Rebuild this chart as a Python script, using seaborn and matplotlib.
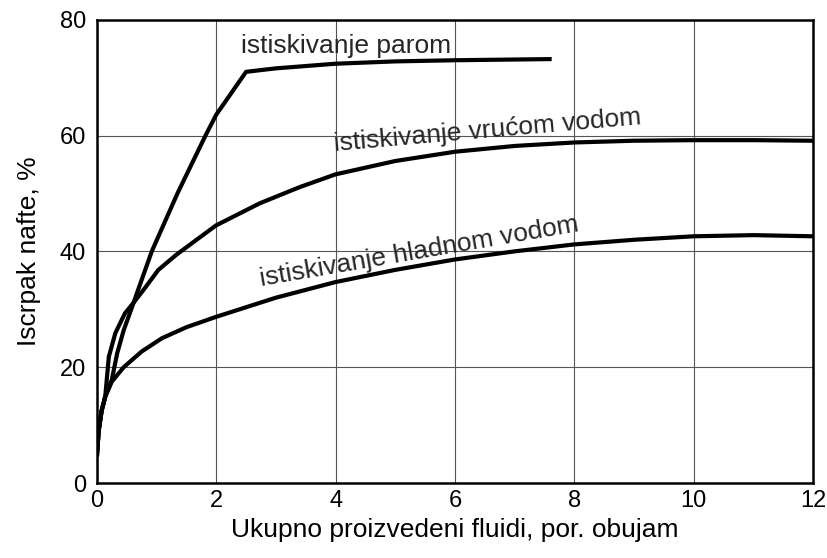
import matplotlib
matplotlib.use("Agg")
import matplotlib.pyplot as plt
import seaborn as sns
import pandas as pd

# Data
steam_x = [0, 0.03, 0.08, 0.14, 0.25, 0.34, 0.45, 0.59, 0.72, 0.81, 0.92, 1.35, 1.82, 2.0, 2.5, 3.0, 4.0, 5.0, 6.0, 7.62]
steam_y = [4.5, 9, 12.5, 14.9, 17.8, 22.4, 26.4, 30.4, 34.2, 36.8, 40, 50, 60, 63.6, 71.0, 71.6, 72.4, 72.8, 73.0, 73.2]

hot_x = [0, 0.03, 0.08, 0.14, 0.20, 0.31, 0.47, 0.62, 0.80, 1.03, 1.33, 1.67, 2.0, 2.73, 3.4, 4.0, 5.0, 6.0, 7.0, 8.0, 9.0, 10.0, 11.0, 12.0]
hot_y = [4.5, 9, 12.5, 14.9, 21.8, 25.9, 29.3, 31.2, 33.6, 36.8, 39.4, 42.0, 44.5, 48.3, 51.1, 53.3, 55.6, 57.2, 58.2, 58.8, 59.1, 59.2, 59.2, 59.1]

cold_x = [0, 0.03, 0.08, 0.14, 0.25, 0.45, 0.75, 1.09, 1.5, 2.0, 3.0, 4.0, 5.0, 6.0, 7.0, 8.0, 9.0, 10.0, 11.0, 12.0]
cold_y = [4.5, 9, 12.5, 14.9, 17.5, 20.0, 22.7, 25.0, 26.9, 28.7, 32.0, 34.7, 36.8, 38.6, 40.0, 41.2, 42.0, 42.6, 42.8, 42.6]

labels = ["istiskivanje parom", "istiskivanje vrućom vodom", "istiskivanje hladnom vodom"]
x_ticks = [0, 2, 4, 6, 8, 10, 12]
y_ticks = [0, 20, 40, 60, 80]
x_label = "Ukupno proizvedeni fluidi, por. obujam"
y_label = "Iscrpak nafte, %"

sns.set_theme(style="white")
plt.rcParams['font.family'] = ['Liberation Sans', 'DejaVu Sans']

df = pd.concat([
    pd.DataFrame({"x": steam_x, "y": steam_y, "s": labels[0]}),
    pd.DataFrame({"x": hot_x, "y": hot_y, "s": labels[1]}),
    pd.DataFrame({"x": cold_x, "y": cold_y, "s": labels[2]}),
])

fig = plt.figure(figsize=(8.28, 5.58), dpi=100)
ax = fig.add_axes([0.117, 0.1344, 0.865, 0.8303])

sns.lineplot(data=df, x="x", y="y", units="s", estimator=None, sort=False,
             color="black", linewidth=3.0, ax=ax, legend=False)
for ln in ax.get_lines():
    ln.set_solid_capstyle("butt")
    ln.set_solid_joinstyle("round")

ax.set_xlim(0, 12)
ax.set_ylim(0, 80)
ax.set_xticks(x_ticks)
ax.set_yticks(y_ticks)
ax.tick_params(axis="both", length=0, labelsize=17, colors="black")
ax.tick_params(axis="x", pad=5)
ax.tick_params(axis="y", pad=8)
ax.grid(True, color="#555555", linewidth=0.8)
for sp in ax.spines.values():
    sp.set_color("black")
    sp.set_linewidth(1.8)
    sp.set_visible(True)

ax.set_xlabel(x_label, fontsize=19, labelpad=4, color="black")
ax.set_ylabel(y_label, fontsize=19, labelpad=13, color="black")

ax.text(2.42, 74.2, labels[0], fontsize=19, ha="left", va="baseline")
ax.text(3.99, 57.3, labels[1], fontsize=19, ha="left", va="baseline",
        rotation=5.0, rotation_mode="anchor")
ax.text(2.76, 34.0, labels[2], fontsize=19, ha="left", va="baseline",
        rotation=9.8, rotation_mode="anchor")

fig.savefig("out.png", dpi=100)
